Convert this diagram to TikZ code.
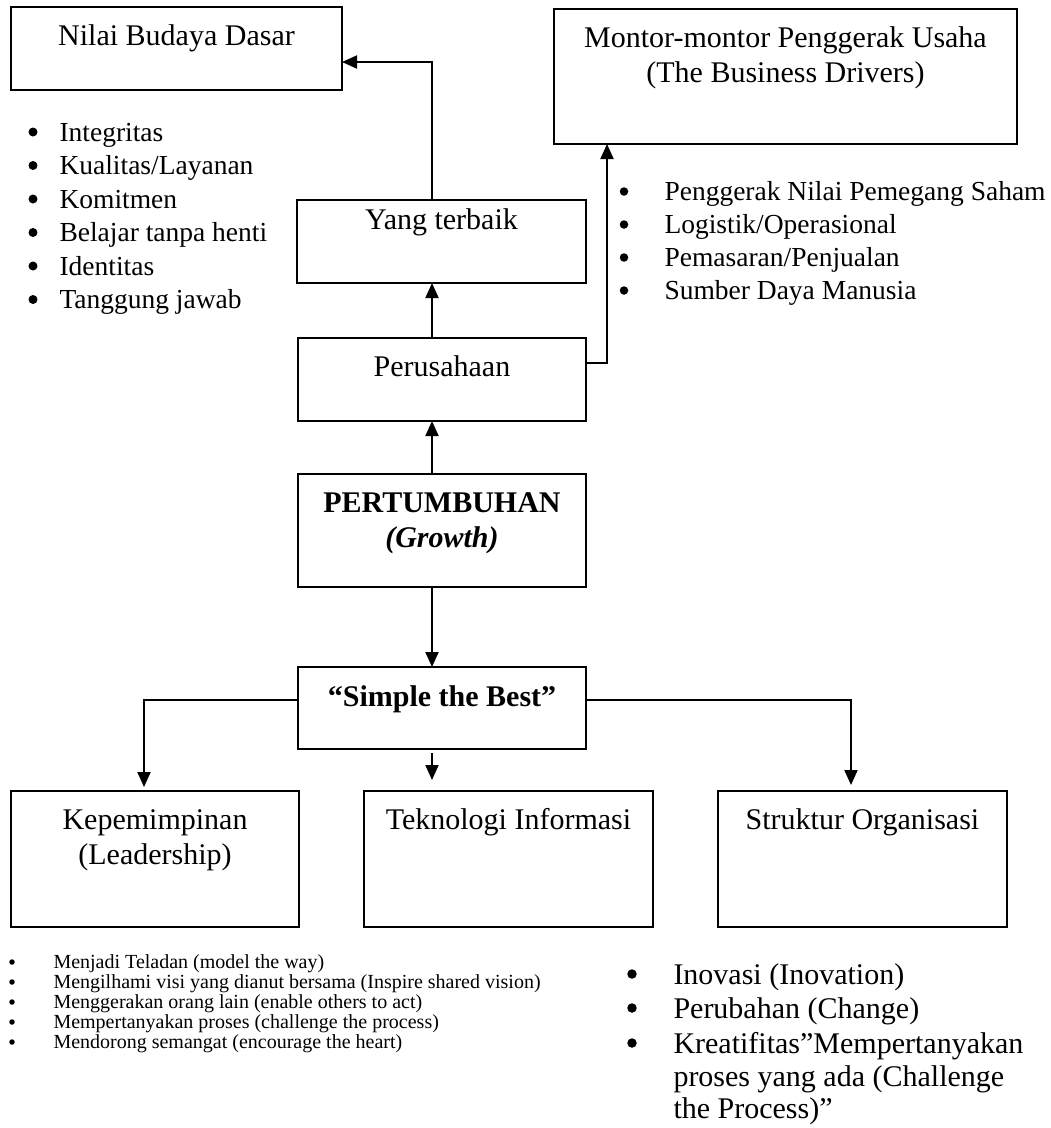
\documentclass[tikz,border=0pt]{standalone}
\usepackage{fontspec}
\setmainfont{Liberation Serif}
\usetikzlibrary{arrows.meta}
\begin{document}
\begin{tikzpicture}[x=0.4pt,y=-0.4pt,
  box/.style={draw, line width=1pt, inner sep=0pt, outer sep=0pt},
  lbl/.style={inner sep=0pt, anchor=base, font=\fontsize{12}{14}\selectfont},
  itemL/.style={inner sep=0pt, anchor=base west, font=\fontsize{11}{13}\selectfont},
  itemS/.style={inner sep=0pt, anchor=base west, font=\fontsize{8}{9}\selectfont},
  itemB/.style={inner sep=0pt, anchor=base west, font=\fontsize{12}{14}\selectfont},
  bdot/.style={circle, fill, draw=none, inner sep=0pt, minimum size=#1},
  arr/.style={-{Triangle[length=6pt,width=5.2pt]}, line width=0.8pt}]
\useasboundingbox (0,0) rectangle (1051,1128);
% boxes
\node[box, minimum width=132.4pt, minimum height=33.2pt] (nilai) at (176.5,48.5) {};
\node[box, minimum width=185.2pt, minimum height=54pt] (montor) at (785.5,76.5) {};
\node[box, minimum width=115.6pt, minimum height=33.2pt] (yang) at (441.5,241.5) {};
\node[box, minimum width=115.2pt, minimum height=33.2pt] (peru) at (442,379.5) {};
\node[box, minimum width=115.2pt, minimum height=45.2pt] (pert) at (442,530.5) {};
\node[box, minimum width=115.2pt, minimum height=32.8pt] (simple) at (442,708) {};
\node[box, minimum width=115.2pt, minimum height=54.4pt] (kep) at (155,859) {};
\node[box, minimum width=115.6pt, minimum height=54.4pt] (tek) at (508.5,859) {};
\node[box, minimum width=115.6pt, minimum height=54.4pt] (struk) at (862.5,859) {};
% box texts
\node[lbl] (tnilai) at (176.5,45) {Nilai Budaya Dasar};
\node[lbl] (tmon1) at (785.5,47) {Montor-montor Penggerak Usaha};
\node[lbl] (tmon2) at (785.5,82) {(The Business Drivers)};
\node[lbl] (tyang) at (441.5,229) {Yang terbaik};
\node[lbl] (tperu) at (442,376) {Perusahaan};
\node[lbl] (tpert1) at (442,512) {\bfseries PERTUMBUHAN};
\node[lbl] (tpert2) at (442,547) {\bfseries\itshape (Growth)};
\node[lbl] (tsimple) at (442,706) {\bfseries “Simple the Best”};
\node[lbl] (tkep1) at (155,829) {Kepemimpinan};
\node[lbl] (tkep2) at (155,864) {(Leadership)};
\node[lbl] (ttek) at (508.5,829) {Teknologi Informasi};
\node[lbl] (tstruk) at (862.5,829) {Struktur Organisasi};
% coordinates
\coordinate (sp) at (432,0);
\coordinate (mx) at (607,0);
\coordinate (kx) at (144,0);
\coordinate (sx) at (851,0);
\coordinate (py) at (0,363);
\coordinate (sy) at (0,700);
% connectors
\draw[arr] (yang.north -| sp) |- ([yshift=-5.4pt]nilai.east);
\draw[arr] (peru.north -| sp) -- (yang.south -| sp);
\draw[arr] (peru.east |- py) -| (montor.south -| mx);
\draw[arr] (pert.north -| sp) -- (peru.south -| sp);
\draw[arr] (pert.south -| sp) -- (simple.north -| sp);
\draw[arr, shorten >=1.6pt] (simple.west |- sy) -| (kep.north -| kx);
\draw[arr, shorten <=1.6pt, shorten >=4.4pt] (simple.south -| sp) -- (tek.north -| sp);
\draw[arr, shorten >=2.4pt] (simple.east |- sy) -| (struk.north -| sx);
% top-left list
\foreach \t [count=\i] in {Integritas, Kualitas/Layanan, Komitmen, Belajar tanpa henti, Identitas, Tanggung jawab}{
  \pgfmathsetmacro{\yy}{141+33.5*(\i-1)}
  \node[bdot=3.6pt] (tlb\i) at (33,\yy-9) {};
  \node[itemL] (tl\i) at (59,\yy) {\t};
}
% top-right list
\foreach \t [count=\i] in {Penggerak Nilai Pemegang Saham, Logistik/Operasional, Pemasaran/Penjualan, Sumber Daya Manusia}{
  \pgfmathsetmacro{\yy}{200+33*(\i-1)}
  \node[bdot=3.4pt] (trb\i) at (624,\yy-8.5) {};
  \node[itemL] (tr\i) at (664,\yy) {\t};
}
% bottom-left list
\foreach \t [count=\i] in {Menjadi Teladan (model the way), Mengilhami visi yang dianut bersama (Inspire shared vision), Menggerakan orang lain (enable others to act), Mempertanyakan proses (challenge the process), Mendorong semangat (encourage the heart)}{
  \pgfmathsetmacro{\yy}{968+20*(\i-1)}
  \node[bdot=2.2pt] (blb\i) at (12,\yy-6) {};
  \node[itemS] (bl\i) at (53,\yy) {\t};
}
% bottom-right list
\node[bdot=3.8pt] (brb1) at (632,974) {};
\node[itemB] (br1) at (673,984) {Inovasi (Inovation)};
\node[bdot=3.8pt] (brb2) at (632,1008) {};
\node[itemB] (br2) at (673,1018) {Perubahan (Change)};
\node[bdot=3.8pt] (brb3) at (632,1043) {};
\node[itemB] (br3) at (673,1053) {Kreatifitas”Mempertanyakan};
\node[itemB] (br4) at (673,1086) {proses yang ada (Challenge};
\node[itemB] (br5) at (673,1118) {the Process)”};
\end{tikzpicture}
\end{document}
